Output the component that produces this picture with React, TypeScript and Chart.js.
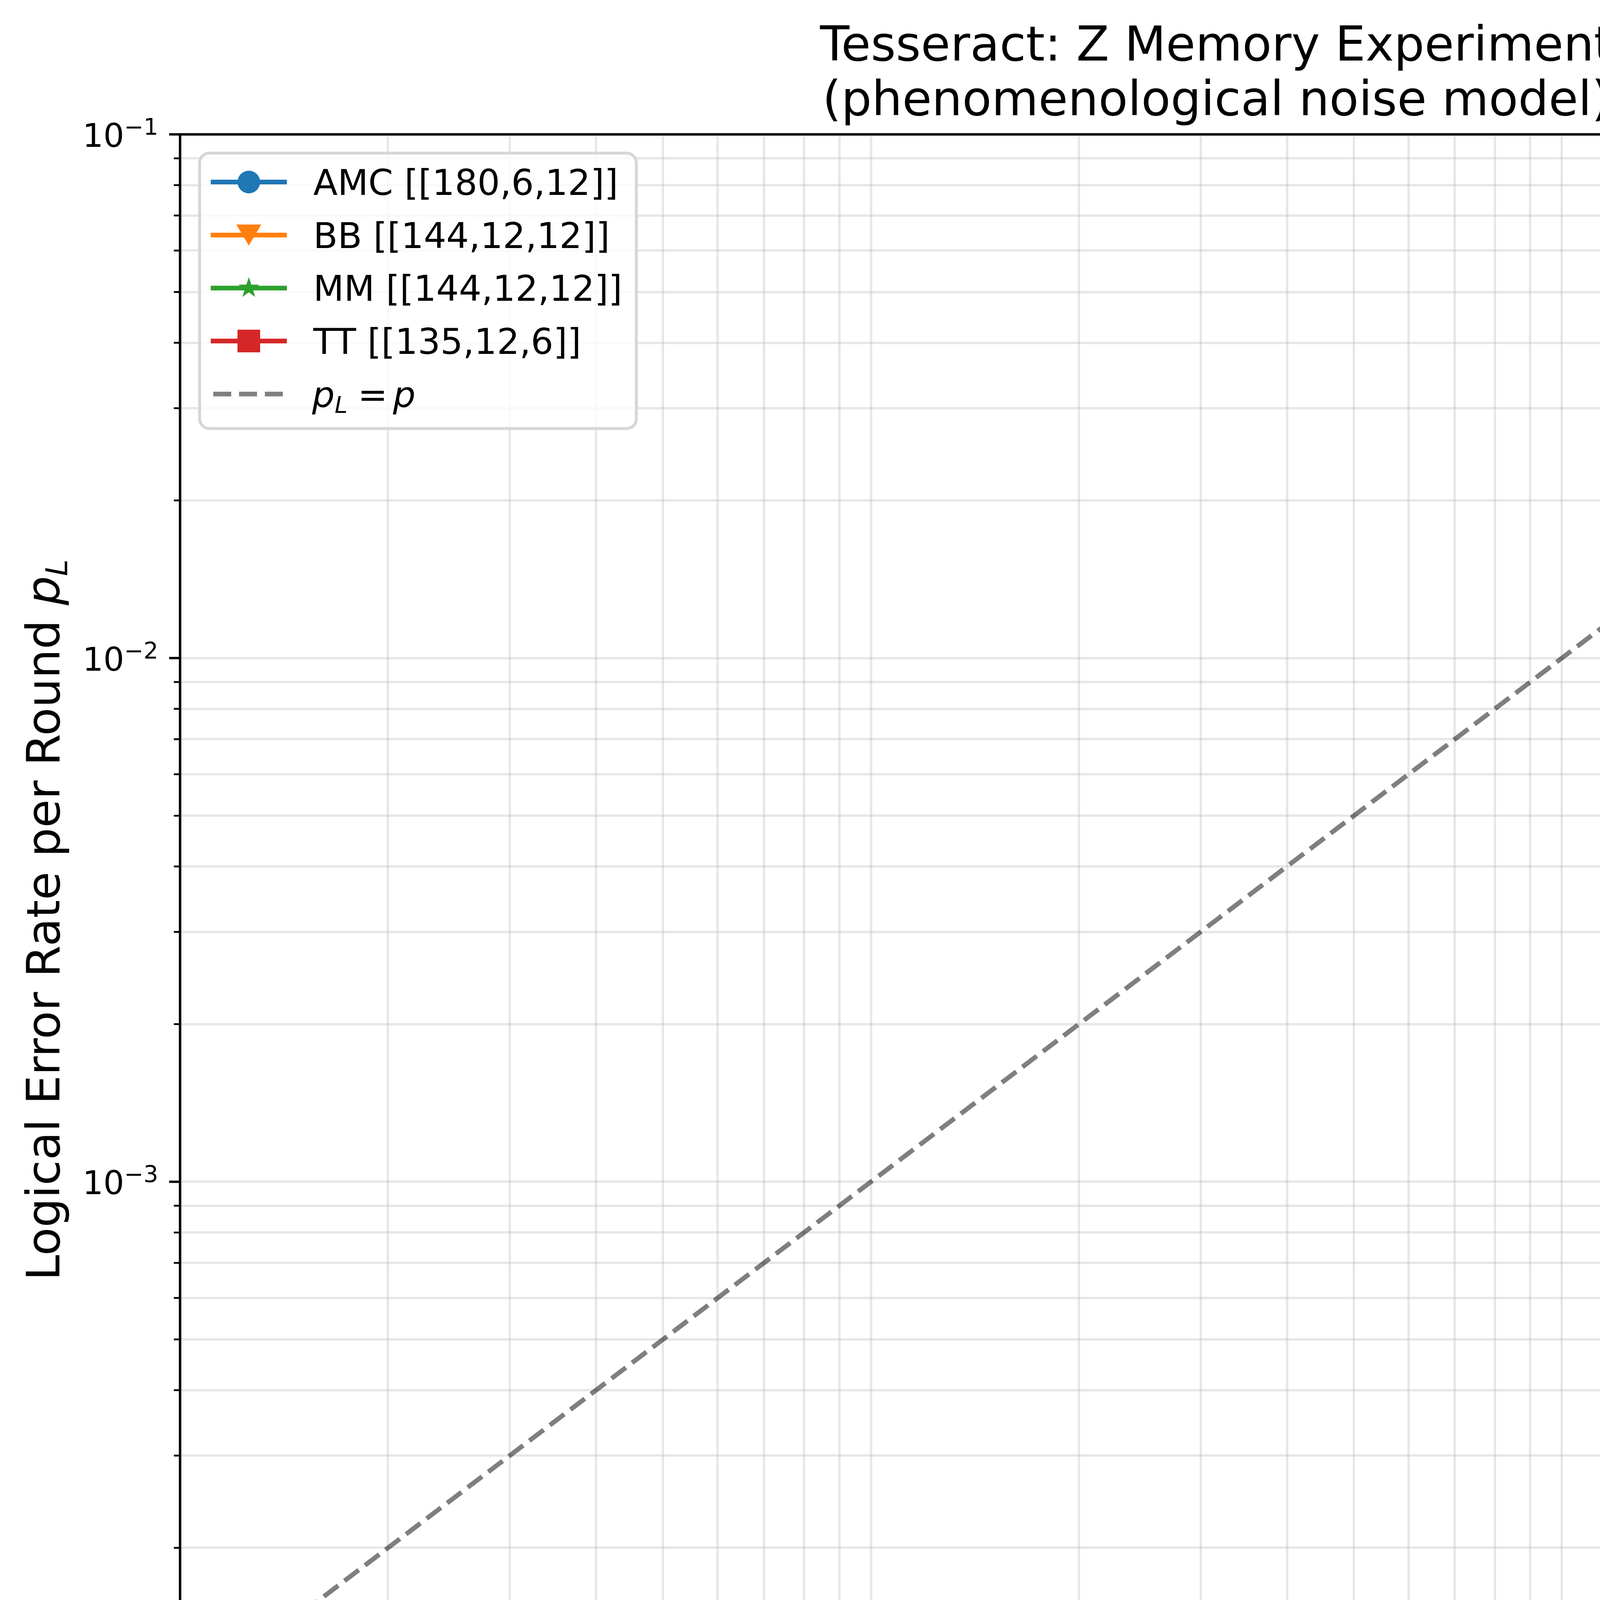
import React, { useEffect, useRef } from 'react';
import { Chart, registerables } from 'chart.js';

Chart.register(...registerables);

const WIDTH = 5921;
const HEIGHT = 4719;

// plot frame inside the canvas (pixels)
const FRAME = { left: 461, top: 344, right: 5767, bottom: 4366 };

// both axes are logarithmic
const P_MIN = 1e-4;
const P_MAX = 1e-1;
const DECADES = [-4, -3, -2, -1];
const MANTISSAS = [1, 2, 3, 4, 5, 6, 7, 8, 9];

const TITLE = ['Tesseract: Z Memory Experiment', '(phenomenological noise model)'];
const X_LABEL = 'Physical Error Rate ';
const Y_LABEL = 'Logical Error Rate per Round ';

// AMC [[180,6,12]]  (p, p_L and the shaded band)
const AMC_P = [0.027, 0.0422, 0.08];
const AMC_PL = [4.1e-5, 1.0e-3, 0.167];
const AMC_HI = [8.5e-5, 1.14e-3, 0.176];
const AMC_LO = [1.3e-5, 8.1e-4, 0.158];

// BB [[144,12,12]]
const BB_P = [0.02, 0.0422, 0.06];
const BB_PL = [3.6e-5, 0.0335, 0.135];
const BB_HI = [6.3e-5, 0.0411, 0.157];
const BB_LO = [1.8e-5, 0.0276, 0.12];

// MM [[144,12,12]]
const MM_P = [0.025, 0.0422, 0.08];
const MM_PL = [2.8e-5, 2.26e-3, 0.2025];
const MM_HI = [7.1e-5, 2.56e-3, 0.21];
const MM_LO = [5.7e-6, 1.8e-3, 0.1995];

// TT [[135,12,6]]
const TT_P = [0.042, 0.09];
const TT_PL = [1.65e-5, 0.254];
const TT_HI = [3.4e-5, 0.294];
const TT_LO = [6.5e-6, 0.224];

// reference line p_L = p
const DIAG_P = [1e-4, 1e-1];

type Series = {
  label: string;
  rgb: number[];
  marker: string;
  p: number[];
  pl: number[];
  hi: number[];
  lo: number[];
};

const SERIES: Series[] = [
  { label: 'AMC [[180,6,12]]', rgb: [31, 119, 180], marker: 'circle', p: AMC_P, pl: AMC_PL, hi: AMC_HI, lo: AMC_LO },
  { label: 'BB [[144,12,12]]', rgb: [255, 127, 14], marker: 'triangleDown', p: BB_P, pl: BB_PL, hi: BB_HI, lo: BB_LO },
  { label: 'MM [[144,12,12]]', rgb: [44, 160, 44], marker: 'star', p: MM_P, pl: MM_PL, hi: MM_HI, lo: MM_LO },
  { label: 'TT [[135,12,6]]', rgb: [214, 39, 40], marker: 'square', p: TT_P, pl: TT_PL, hi: TT_HI, lo: TT_LO },
];

const FONT = '"DejaVu Sans"';
const DIAG_COLOR = 'rgba(0,0,0,0.5)';

const rgba = (c: number[], a: number) => `rgba(${c[0]},${c[1]},${c[2]},${a})`;
const toPoints = (xs: number[], ys: number[]) => xs.map((x, i) => ({ x, y: ys[i] }));

// grid / tick positions: 1..9 x 10^d inside the axis range
const TICKS = DECADES.flatMap((d) =>
  MANTISSAS.map((m) => ({ value: m * Math.pow(10, d), major: m === 1, exp: d }))
).filter((t) => t.value <= P_MAX * 1.000001);

function makeMarker(kind: string, rgb: number[]): HTMLCanvasElement {
  const c = document.createElement('canvas');
  if (kind === 'circle') {
    c.width = 60; c.height = 60;
    const ctx = c.getContext('2d')!;
    ctx.fillStyle = rgba(rgb, 1);
    ctx.beginPath();
    ctx.arc(30, 30, 29, 0, Math.PI * 2);
    ctx.fill();
  } else if (kind === 'triangleDown') {
    c.width = 66; c.height = 56;
    const ctx = c.getContext('2d')!;
    ctx.fillStyle = rgba(rgb, 1);
    ctx.beginPath();
    ctx.moveTo(1, 1);
    ctx.lineTo(65, 1);
    ctx.lineTo(33, 55);
    ctx.closePath();
    ctx.fill();
  } else if (kind === 'star') {
    c.width = 60; c.height = 60;
    const ctx = c.getContext('2d')!;
    ctx.fillStyle = rgba(rgb, 1);
    const R = 28;
    const r = R * 0.381966;
    ctx.beginPath();
    for (let k = 0; k < 10; k++) {
      const ang = -Math.PI / 2 + (k * Math.PI) / 5;
      const rad = k % 2 === 0 ? R : r;
      const px = 30 + rad * Math.cos(ang);
      const py = 30 + rad * Math.sin(ang);
      if (k === 0) ctx.moveTo(px, py); else ctx.lineTo(px, py);
    }
    ctx.closePath();
    ctx.fill();
  } else {
    c.width = 58; c.height = 58;
    const ctx = c.getContext('2d')!;
    ctx.fillStyle = rgba(rgb, 1);
    ctx.fillRect(0, 0, 58, 58);
  }
  return c;
}

// "10" with a superscript exponent, like matplotlib's mathtext tick labels
function drawPow(ctx: CanvasRenderingContext2D, anchorX: number, baseline: number, exp: number, align: string) {
  const big = `84px ${FONT}`;
  const small = `59px ${FONT}`;
  const sup = '\u2212' + Math.abs(exp);
  ctx.font = big;
  const w1 = ctx.measureText('10').width;
  ctx.font = small;
  const w2 = ctx.measureText(sup).width;
  const x0 = align === 'center' ? anchorX - (w1 + w2) / 2 : anchorX - (w1 + w2);
  ctx.textAlign = 'left';
  ctx.textBaseline = 'alphabetic';
  ctx.font = big;
  ctx.fillText('10', x0, baseline);
  ctx.font = small;
  ctx.fillText(sup, x0 + w1, baseline - 31);
}

// text followed by italic p with optional subscript L, centred on x
function drawMathLabel(ctx: CanvasRenderingContext2D, text: string, size: number, withSub: boolean, cx: number, baseline: number) {
  const normal = `${size}px ${FONT}`;
  const italic = `italic ${size}px ${FONT}`;
  const subSize = Math.round(size * 0.65);
  const subFont = `italic ${subSize}px ${FONT}`;
  ctx.font = normal;
  const wt = ctx.measureText(text).width;
  ctx.font = italic;
  const wp = ctx.measureText('p').width;
  ctx.font = subFont;
  const wl = withSub ? ctx.measureText('L').width : 0;
  const x0 = cx - (wt + wp + wl) / 2;
  ctx.textAlign = 'left';
  ctx.textBaseline = 'alphabetic';
  ctx.font = normal;
  ctx.fillText(text, x0, baseline);
  ctx.font = italic;
  ctx.fillText('p', x0 + wt, baseline);
  if (withSub) {
    ctx.font = subFont;
    ctx.fillText('L', x0 + wt + wp, baseline + size * 0.17);
  }
}

const App: React.FC = () => {
  const canvasRef = useRef<HTMLCanvasElement>(null);
  const chartRef = useRef<Chart | null>(null);

  useEffect(() => {
    document.body.style.margin = '0';
    const canvas = canvasRef.current;
    if (!canvas) return;

    const markers = SERIES.map((s) => makeMarker(s.marker, s.rgb));

    const datasets: any[] = [];
    SERIES.forEach((s, i) => {
      const hiIndex = datasets.length;
      datasets.push({
        label: s.label + ' upper',
        data: toPoints(s.p, s.hi),
        borderColor: rgba(s.rgb, 0.2),
        backgroundColor: rgba(s.rgb, 0.2),
        borderWidth: 5,
        pointRadius: 0,
        fill: hiIndex + 1,
        order: 10,
        clip: 0,
      });
      datasets.push({
        label: s.label + ' lower',
        data: toPoints(s.p, s.lo),
        borderColor: rgba(s.rgb, 0.2),
        backgroundColor: rgba(s.rgb, 0.2),
        borderWidth: 5,
        pointRadius: 0,
        fill: false,
        order: 10,
        clip: 0,
      });
      datasets.push({
        label: s.label,
        data: toPoints(s.p, s.pl),
        borderColor: rgba(s.rgb, 1),
        backgroundColor: rgba(s.rgb, 1),
        borderWidth: 12,
        pointStyle: markers[i],
        pointRadius: 29,
        pointBorderWidth: 0,
        fill: false,
        order: 2,
        clip: 0,
      });
    });
    datasets.push({
      label: 'p_L = p',
      data: toPoints(DIAG_P, DIAG_P),
      borderColor: DIAG_COLOR,
      borderWidth: 12,
      borderDash: [46, 20],
      pointRadius: 0,
      fill: false,
      order: 1,
      clip: 0,
    });

    const decor = {
      id: 'decor',
      afterDraw(chart: Chart) {
        const ctx = chart.ctx;
        const a = chart.chartArea;
        const xs = chart.scales.x;
        const ys = chart.scales.y;
        ctx.save();

        // spines
        ctx.strokeStyle = '#000';
        ctx.lineWidth = 6.3;
        ctx.setLineDash([]);
        ctx.strokeRect(a.left, a.top, a.right - a.left, a.bottom - a.top);

        // tick marks
        ctx.lineCap = 'butt';
        TICKS.forEach((t) => {
          const len = t.major ? 28 : 16;
          ctx.lineWidth = t.major ? 6 : 4.6;
          const px = xs.getPixelForValue(t.value);
          ctx.beginPath();
          ctx.moveTo(px, a.bottom);
          ctx.lineTo(px, a.bottom + len);
          ctx.stroke();
          const py = ys.getPixelForValue(t.value);
          ctx.beginPath();
          ctx.moveTo(a.left, py);
          ctx.lineTo(a.left - len, py);
          ctx.stroke();
        });

        // tick labels
        ctx.fillStyle = '#000';
        TICKS.filter((t) => t.major).forEach((t) => {
          drawPow(ctx, xs.getPixelForValue(t.value), a.bottom + 124, t.exp, 'center');
          drawPow(ctx, a.left - 56, ys.getPixelForValue(t.value) + 32, t.exp, 'right');
        });

        // title
        const cx = (a.left + a.right) / 2;
        ctx.font = `123px ${FONT}`;
        ctx.textAlign = 'center';
        ctx.textBaseline = 'alphabetic';
        ctx.fillText(TITLE[0], cx, 155);
        ctx.fillText(TITLE[1], cx, 295);

        // axis labels
        drawMathLabel(ctx, X_LABEL, 118, false, cx, 4633);
        ctx.save();
        ctx.translate(152, (a.top + a.bottom) / 2);
        ctx.rotate(-Math.PI / 2);
        drawMathLabel(ctx, Y_LABEL, 118, true, 0, 0);
        ctx.restore();

        // legend
        const bx = 511, by = 392, bw = 1118, bh = 705, br = 25;
        ctx.beginPath();
        ctx.roundRect(bx, by, bw, bh, br);
        ctx.fillStyle = 'rgba(255,255,255,0.8)';
        ctx.fill();
        ctx.strokeStyle = '#d6d6d6';
        ctx.lineWidth = 7.5;
        ctx.stroke();

        const rowY = (k: number) => 466 + k * 135.7;
        SERIES.forEach((s, k) => {
          const cy = rowY(k);
          ctx.strokeStyle = rgba(s.rgb, 1);
          ctx.lineWidth = 12;
          ctx.beginPath();
          ctx.moveTo(539.5, cy);
          ctx.lineTo(734.4, cy);
          ctx.stroke();
          const m = markers[k];
          ctx.drawImage(m, 637 - m.width / 2, cy - m.height / 2);
          ctx.fillStyle = '#000';
          ctx.font = `91px ${FONT}`;
          ctx.textAlign = 'left';
          ctx.fillText(s.label, 802, cy + 33);
        });

        const dy = rowY(SERIES.length);
        ctx.strokeStyle = DIAG_COLOR;
        ctx.lineWidth = 12;
        ctx.setLineDash([46, 20]);
        ctx.beginPath();
        ctx.moveTo(546, dy);
        ctx.lineTo(724, dy);
        ctx.stroke();
        ctx.setLineDash([]);
        ctx.fillStyle = '#000';
        ctx.textAlign = 'left';
        ctx.font = `italic 91px ${FONT}`;
        ctx.fillText('p', 799, dy + 33);
        const wp = ctx.measureText('p').width;
        ctx.font = `italic 59px ${FONT}`;
        ctx.fillText('L', 799 + wp, dy + 33 + 15);
        ctx.font = `91px ${FONT}`;
        ctx.fillText('=', 916, dy + 33);
        ctx.font = `italic 91px ${FONT}`;
        ctx.fillText('p', 1006, dy + 33);

        ctx.restore();
      },
    };

    const gridStyle = {
      color: 'rgba(176,176,176,0.3)',
      lineWidth: 6,
      drawTicks: false,
      drawOnChartArea: true,
    };
    const setTicks = (scale: any) => {
      scale.ticks = TICKS.map((t) => ({ value: t.value, major: t.major }));
    };

    chartRef.current = new Chart(canvas, {
      type: 'line',
      data: { datasets },
      options: {
        animation: false,
        responsive: false,
        devicePixelRatio: 1,
        events: [],
        layout: {
          autoPadding: false,
          padding: { left: 0, top: FRAME.top, right: WIDTH - FRAME.right, bottom: 0 },
        },
        plugins: {
          legend: { display: false },
          title: { display: false },
          tooltip: { enabled: false },
          filler: { propagate: false, drawTime: 'beforeDatasetsDraw' },
        },
        elements: { line: { tension: 0 } },
        scales: {
          x: {
            type: 'logarithmic',
            min: P_MIN,
            max: P_MAX,
            position: 'bottom',
            afterBuildTicks: setTicks,
            afterFit: (s: any) => { s.height = HEIGHT - FRAME.bottom; },
            ticks: { display: false, autoSkip: false },
            grid: gridStyle,
            border: { display: false },
          },
          y: {
            type: 'logarithmic',
            min: P_MIN,
            max: P_MAX,
            position: 'left',
            afterBuildTicks: setTicks,
            afterFit: (s: any) => { s.width = FRAME.left; },
            ticks: { display: false, autoSkip: false },
            grid: gridStyle,
            border: { display: false },
          },
        },
      } as any,
      plugins: [decor],
    });

    return () => {
      if (chartRef.current) {
        chartRef.current.destroy();
        chartRef.current = null;
      }
    };
  }, []);

  return (
    <div style={{ width: WIDTH, height: HEIGHT, background: '#fff' }}>
      <canvas ref={canvasRef} width={WIDTH} height={HEIGHT} style={{ display: 'block', width: WIDTH, height: HEIGHT }} />
    </div>
  );
};

export default App;
